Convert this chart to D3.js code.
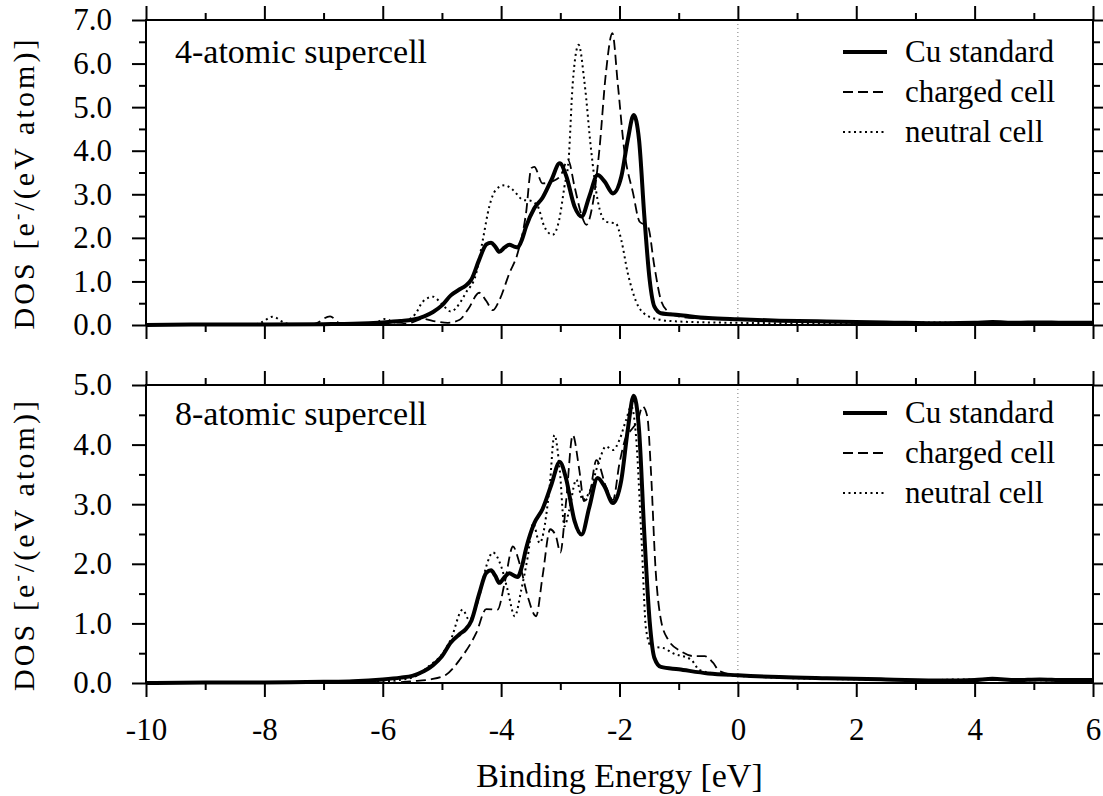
<!DOCTYPE html>
<html>
<head>
<meta charset="utf-8">
<script src="https://cdn.jsdelivr.net/npm/d3@7"></script>
<style>
  body { margin: 0; background: #fff; }
  svg text { font-family: "Liberation Serif", "Tinos", "Times New Roman", Times, "Nimbus Roman", "DejaVu Serif", serif; fill: #000; }
  .chart-line { fill: none; stroke: #000; }
  .axis text { font-size: 31px; }
  .axis line { stroke: #000; stroke-width: 2; }
  .axis path { display: none; }
  .frame { fill: none; stroke: #000; stroke-width: 2; }
</style>
</head>
<body>
<svg id="chart"></svg>
<script>
// tick values
const energyTicks = [-10, -8, -6, -4, -2, 0, 2, 4, 6];
const energyMinorTicks = [-9, -7, -5, -3, -1, 1, 3, 5];
const dosTicksTop = [0, 1, 2, 3, 4, 5, 6, 7];
const dosTicksBottom = [0, 1, 2, 3, 4, 5];
const seriesNames = ["Cu standard", "charged cell", "neutral cell"];
const panelTitles = ["4-atomic supercell", "8-atomic supercell"];

// [binding energy (eV), DOS]
const cuStandard = [[-10,0],[-9,0.01],[-8,0.01],[-7,0.02],[-6.5,0.03],[-6,0.06],[-5.7,0.09],[-5.5,0.12],[-5.3,0.2],[-5.15,0.3],[-5,0.45],[-4.85,0.68],[-4.7,0.82],[-4.6,0.9],[-4.5,1.05],[-4.37,1.5],[-4.25,1.85],[-4.17,1.89],[-4.1,1.8],[-4.03,1.68],[-3.94,1.78],[-3.86,1.84],[-3.78,1.8],[-3.72,1.78],[-3.65,1.95],[-3.58,2.25],[-3.44,2.68],[-3.3,2.92],[-3.15,3.33],[-3.01,3.71],[-2.9,3.42],[-2.76,2.72],[-2.64,2.49],[-2.51,2.95],[-2.37,3.44],[-2.25,3.29],[-2.11,3.02],[-1.97,3.4],[-1.86,4.25],[-1.76,4.82],[-1.67,4.25],[-1.58,2.49],[-1.49,1.03],[-1.41,0.42],[-1.3,0.27],[-1,0.23],[-0.5,0.16],[0,0.13],[0.7,0.1],[1.5,0.08],[2.5,0.06],[3.5,0.04],[4,0.05],[4.3,0.07],[4.7,0.05],[5.1,0.06],[5.5,0.05],[6,0.05]];

const charged4 = [[-10,0],[-7.3,0],[-7.14,0.03],[-6.89,0.2],[-6.72,0.03],[-6.5,0],[-5.8,0.01],[-5.5,0.06],[-5.32,0.14],[-5.1,0.08],[-4.9,0.05],[-4.7,0.12],[-4.55,0.38],[-4.37,0.74],[-4.25,0.55],[-4.14,0.34],[-4.03,0.57],[-3.86,1.19],[-3.72,1.65],[-3.58,2.56],[-3.49,3.6],[-3.44,3.63],[-3.3,3.25],[-3.13,3.3],[-2.99,3.44],[-2.87,3.79],[-2.76,3.18],[-2.65,2.56],[-2.56,2.3],[-2.45,2.8],[-2.34,4.02],[-2.23,5.78],[-2.12,6.7],[-2.03,5.55],[-1.92,4.02],[-1.77,3.02],[-1.66,2.37],[-1.52,2.26],[-1.41,1.34],[-1.3,0.57],[-1.18,0.31],[-0.99,0.19],[-0.5,0.14],[0,0.12],[1,0.09],[2,0.07],[3,0.05],[4,0.05],[5,0.05],[6,0.04]];

const neutral4 = [[-10,0],[-8.25,0],[-8.05,0.06],[-7.86,0.19],[-7.66,0.05],[-7.45,0],[-6.3,0],[-6.1,0.06],[-5.96,0.14],[-5.8,0.06],[-5.6,0.1],[-5.45,0.25],[-5.32,0.54],[-5.15,0.65],[-5,0.48],[-4.85,0.31],[-4.7,0.5],[-4.6,0.73],[-4.42,1.19],[-4.31,1.95],[-4.2,2.72],[-4.09,3.1],[-3.94,3.21],[-3.8,3.1],[-3.63,2.87],[-3.5,2.85],[-3.38,2.72],[-3.27,2.26],[-3.13,2.07],[-3.02,2.41],[-2.93,3.18],[-2.86,3.79],[-2.79,5.55],[-2.69,6.43],[-2.59,5.55],[-2.48,4.02],[-2.37,2.87],[-2.23,2.37],[-2.06,2.33],[-1.97,1.95],[-1.86,1.19],[-1.72,0.54],[-1.55,0.23],[-1.27,0.11],[-0.99,0.08],[-0.5,0.06],[0,0.05],[1,0.04],[2,0.04],[2.8,0.05],[3.3,0.06],[3.8,0.05],[4.5,0.04],[5,0.04],[6,0.03]];

const charged8 = [[-10,0],[-6,0],[-5.5,0.03],[-5.2,0.06],[-4.93,0.14],[-4.7,0.39],[-4.42,0.84],[-4.25,1.24],[-4.06,1.23],[-3.94,1.68],[-3.8,2.29],[-3.69,2.01],[-3.55,1.45],[-3.41,1.12],[-3.3,1.79],[-3.17,2.58],[-3.07,2.45],[-3,2.19],[-2.9,3.07],[-2.79,4.16],[-2.68,3.58],[-2.6,3.05],[-2.5,3.2],[-2.39,3.74],[-2.23,3.3],[-2.11,3.07],[-2,3.69],[-1.89,4.13],[-1.8,4.25],[-1.69,4.41],[-1.61,4.64],[-1.53,4.47],[-1.47,3.58],[-1.39,1.9],[-1.3,1.06],[-1.18,0.73],[-0.96,0.53],[-0.74,0.45],[-0.56,0.45],[-0.42,0.34],[-0.31,0.2],[0,0.13],[1,0.1],[2,0.07],[3,0.05],[4,0.05],[5,0.05],[6,0.04]];

const neutral8 = [[-10,0],[-6,0.03],[-5.5,0.09],[-5.2,0.3],[-5,0.48],[-4.85,0.73],[-4.65,1.23],[-4.54,1.06],[-4.37,1.45],[-4.25,1.96],[-4.14,2.19],[-4,1.96],[-3.89,1.56],[-3.77,1.12],[-3.66,1.56],[-3.55,2.12],[-3.46,2.68],[-3.35,2.35],[-3.18,3.3],[-3.1,4.16],[-3.01,3.58],[-2.93,2.63],[-2.85,2.9],[-2.73,3.41],[-2.62,3.07],[-2.51,3.2],[-2.34,3.74],[-2.23,3.97],[-2.11,3.91],[-2,4.08],[-1.89,4.41],[-1.8,4.64],[-1.72,4.13],[-1.63,2.46],[-1.55,0.89],[-1.46,0.61],[-1.27,0.59],[-1.1,0.5],[-0.79,0.39],[-0.65,0.22],[-0.4,0.16],[0,0.12],[2,0.06],[3.3,0.05],[3.8,0.06],[4.5,0.05],[6,0.04]];

const lineStyles = [
  { width: 4, dash: null },
  { width: 1.8, dash: "10,5" },
  { width: 2, dash: "2,3.5" }
];

class DosPanel {
  constructor(_config, _series) {
    this.config = {
      parentElement: _config.parentElement,
      top: _config.top,
      height: _config.height,
      yTicks: _config.yTicks,
      title: _config.title,
      titleY: _config.titleY,
      legendY: _config.legendY,
      showXLabels: _config.showXLabels || false,
      margin: { left: 146, right: 10 }
    };
    this.series = _series;
  }

  initVis() {
    let vis = this;
    vis.width = 1103 - vis.config.margin.left - vis.config.margin.right;
    vis.height = vis.config.height;
    let yMax = d3.max(vis.config.yTicks);

    vis.xScale = d3.scaleLinear().domain([-10, 6]).range([0, vis.width]);
    vis.yScale = d3.scaleLinear().domain([0, yMax]).range([vis.height, 0]);

    vis.chart = d3.select(vis.config.parentElement).append('g')
        .attr('transform', `translate(${vis.config.margin.left},${vis.config.top})`);

    vis.line = d3.line()
        .x(d => vis.xScale(d[0]))
        .y(d => vis.yScale(d[1]))
        .curve(d3.curveMonotoneX);

    vis.renderVis();
  }

  renderVis() {
    let vis = this;
    let minorY = vis.config.yTicks.slice(1).map(d => d - 0.5);

    // Fermi level marker
    vis.chart.append('line')
        .attr('x1', vis.xScale(0)).attr('x2', vis.xScale(0))
        .attr('y1', 0).attr('y2', vis.height)
        .attr('stroke', '#777')
        .attr('stroke-width', 1)
        .attr('stroke-dasharray', '1,3');

    // draw lighter lines first, thick standard on top
    [2, 1, 0].forEach(i => {
      vis.chart.append('path')
          .datum(vis.series[i])
          .attr('class', 'chart-line')
          .attr('stroke-width', lineStyles[i].width)
          .attr('stroke-dasharray', lineStyles[i].dash)
          .attr('d', vis.line);
    });

    // axes: major + minor ticks, all pointing outwards
    const fmt = d => String(d);
    const axisG = () => vis.chart.append('g').attr('class', 'axis');
    axisG().attr('transform', `translate(0,${vis.height})`)
        .call(d3.axisBottom(vis.xScale).tickValues(energyTicks).tickSize(14).tickPadding(21)
          .tickFormat(vis.config.showXLabels ? fmt : ''));
    axisG().attr('transform', `translate(0,${vis.height})`)
        .call(d3.axisBottom(vis.xScale).tickValues(energyMinorTicks).tickSize(7).tickFormat(''));
    axisG().call(d3.axisTop(vis.xScale).tickValues(energyTicks).tickSize(14).tickFormat(''));
    axisG().call(d3.axisTop(vis.xScale).tickValues(energyMinorTicks).tickSize(7).tickFormat(''));

    axisG().call(d3.axisLeft(vis.yScale).tickValues(vis.config.yTicks).tickSize(14).tickPadding(20)
          .tickFormat(d3.format('.1f')));
    axisG().call(d3.axisLeft(vis.yScale).tickValues(minorY).tickSize(7).tickFormat(''));
    axisG().attr('transform', `translate(${vis.width},0)`)
        .call(d3.axisRight(vis.yScale).tickValues(vis.config.yTicks).tickSize(14).tickFormat(''));
    axisG().attr('transform', `translate(${vis.width},0)`)
        .call(d3.axisRight(vis.yScale).tickValues(minorY).tickSize(7).tickFormat(''));
    // drop d3's default sans-serif so the css font applies
    vis.chart.selectAll('.axis').attr('font-family', null).attr('font-size', null);

    vis.chart.append('rect')
        .attr('class', 'frame')
        .attr('width', vis.width)
        .attr('height', vis.height);

    // y label
    let ylab = vis.chart.append('text')
        .attr('transform', `translate(-112,${vis.height / 2 + 12}) rotate(-90)`)
        .attr('text-anchor', 'middle')
        .attr('textLength', 290)
        .attr('lengthAdjust', 'spacing')
        .style('font-size', '30px');
    ylab.append('tspan').text('DOS [e');
    ylab.append('tspan').attr('dy', -11).style('font-size', '19px').text('-');
    ylab.append('tspan').attr('dy', 11).text('/(eV atom)]');

    vis.chart.append('text')
        .attr('x', 29)
        .attr('y', vis.config.titleY)
        .style('font-size', '34px')
        .text(vis.config.title);

    // legend
    let legend = vis.chart.selectAll('.legend-row')
        .data(seriesNames)
      .enter().append('g')
        .attr('class', 'legend-row')
        .attr('transform', (d, i) => `translate(${vis.width - 250},${vis.config.legendY + i * 40})`);
    legend.append('line')
        .attr('x1', 0).attr('x2', 44)
        .attr('stroke', '#000')
        .attr('stroke-width', (d, i) => lineStyles[i].width)
        .attr('stroke-dasharray', (d, i) => lineStyles[i].dash);
    legend.append('text')
        .attr('x', 62)
        .attr('y', 10)
        .style('font-size', '31px')
        .text(d => d);

    if (vis.config.showXLabels) {
      vis.chart.append('text')
          .attr('x', vis.width / 2)
          .attr('y', vis.height + 104)
          .attr('text-anchor', 'middle')
          .style('font-size', '34px')
          .text('Binding Energy [eV]');
    }
  }
}

d3.select('#chart').attr('width', 1103).attr('height', 796);

let top4 = new DosPanel({
  parentElement: '#chart', top: 20, height: 305, yTicks: dosTicksTop,
  title: panelTitles[0], titleY: 43, legendY: 32
}, [cuStandard, charged4, neutral4]);
top4.initVis();

let bottom8 = new DosPanel({
  parentElement: '#chart', top: 385, height: 298, yTicks: dosTicksBottom,
  title: panelTitles[1], titleY: 40, legendY: 28, showXLabels: true
}, [cuStandard, charged8, neutral8]);
bottom8.initVis();
</script>
</body>
</html>
